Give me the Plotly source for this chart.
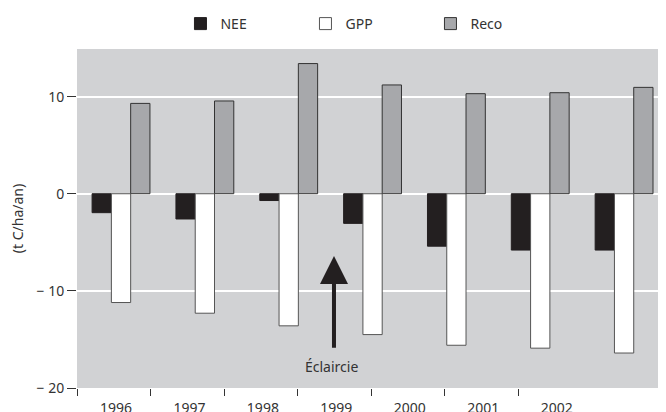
import plotly.graph_objects as go

years = ["1996", "1997", "1998", "1999", "2000", "2001", "2002"]
nee = [-1.95, -2.6, -0.7, -3.05, -5.4, -5.8, -5.8]
gpp = [-11.2, -12.3, -13.6, -14.5, -15.6, -15.9, -16.4]
reco = [9.3, 9.55, 13.4, 11.2, 10.3, 10.4, 10.95]
ytick_vals = [-20, -10, 0, 10]
ytick_text = ["− 20", "− 10", "0", "10"]

FONT = "Noto Sans"
TXT = "#333333"
idx = list(range(len(years)))

# the year labels / tick marks in the original sit on a slightly compressed spacing
LAB_STEP = 0.876
lab_pos = [i * LAB_STEP - 0.06 for i in idx]
tick_pos = [i * LAB_STEP - 0.52 for i in idx]

fig = go.Figure()
fig.add_trace(go.Bar(name="NEE", x=idx, y=nee, marker=dict(color="#231f20", line=dict(color="#231f20", width=1))))
fig.add_trace(go.Bar(name="GPP", x=idx, y=gpp, marker=dict(color="#ffffff", line=dict(color="#555555", width=1))))
fig.add_trace(go.Bar(name="Reco", x=idx, y=reco, marker=dict(color="#a7a8ab", line=dict(color="#333333", width=1))))

# page body adds an 8px offset; figure is sized to end at the window edge
fig.update_layout(
    width=658, height=404,
    margin=dict(l=69, r=0, t=39, b=24),
    paper_bgcolor="white",
    plot_bgcolor="#d1d2d4",
    barmode="group", bargap=0.31, bargroupgap=0,
    font=dict(family=FONT, size=14, color=TXT),
    showlegend=True,
    legend=dict(orientation="h", x=0.494, y=1.075, xanchor="center", yanchor="middle",
                entrywidth=80, entrywidthmode="pixels", font=dict(size=14, color=TXT),
                traceorder="normal", bgcolor="rgba(0,0,0,0)"),
    xaxis=dict(range=[-0.525, 6.5], tickmode="array", tickvals=lab_pos, ticktext=years, ticks="",
               showgrid=False, zeroline=False, showline=False, automargin=False,
               tickfont=dict(size=14, color=TXT), ticklabelstandoff=10,
               minor=dict(tickmode="array", tickvals=tick_pos, ticks="outside", ticklen=7,
                          tickcolor="#333333", tickwidth=1, showgrid=False)),
    yaxis=dict(range=[-20, 14.9], tickvals=ytick_vals, ticktext=ytick_text, ticks="outside", ticklen=9,
               tickcolor="#333333", tickwidth=1, showgrid=True, gridcolor="white", gridwidth=2,
               zeroline=True, zerolinecolor="white", zerolinewidth=2, showline=False, automargin=False,
               tickfont=dict(size=14, color=TXT),
               title=dict(text="(t C/ha/an)", font=dict(size=14, color=TXT), standoff=12)),
)

fig.add_annotation(x=2.54, y=-6.4, ax=2.54, ay=-16.0, axref="x", ayref="y", xref="x", yref="y",
                   text="", showarrow=True, arrowhead=2, arrowsize=1.4, arrowwidth=4, arrowcolor="#231f20",
                   standoff=0, startstandoff=0)
fig.add_annotation(x=2.51, y=-17.8, xref="x", yref="y", text="Éclaircie", showarrow=False,
                   font=dict(size=14, color=TXT, family=FONT))

fig.write_html("out.html")
